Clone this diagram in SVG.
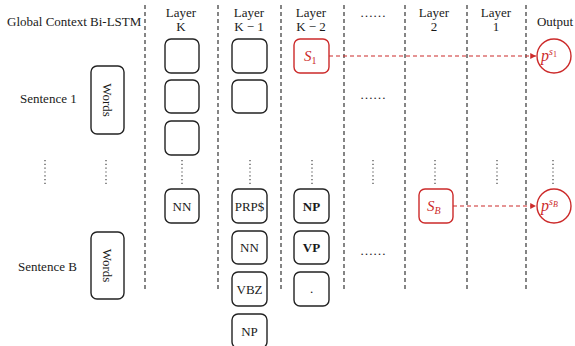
<svg xmlns="http://www.w3.org/2000/svg" width="575" height="346" viewBox="0 0 575 346">
<defs>
<style>
.t{font-family:"Liberation Serif","Times New Roman",serif;font-size:13px;fill:#1a1a1a;}
.c{text-anchor:middle;}
.box{fill:#fff;stroke:#222;stroke-width:1.4;}
.rbox{fill:#fff;stroke:#cc2a2a;stroke-width:1.4;}
.sep{stroke:#222;stroke-width:1.1;stroke-dasharray:4,3;fill:none;}
.vd{stroke:#444;stroke-width:1.2;stroke-dasharray:1.2,2.6;fill:none;}
.red{stroke:#cc2a2a;stroke-width:1.1;stroke-dasharray:4,3;fill:none;}
.rt{font-family:"Liberation Serif","Times New Roman",serif;font-style:italic;fill:#cc2a2a;}
</style>
<marker id="ah" viewBox="0 0 8 8" refX="7" refY="4" markerWidth="6" markerHeight="6" orient="auto">
<path d="M0,0.5 L7,4 L0,7.5 Z" fill="#cc2a2a"/>
</marker>
</defs>
<rect width="575" height="346" fill="#fff"/>

<g id="separators">
<line class="sep" x1="145" y1="5" x2="145" y2="291"/>
<line class="sep" x1="218" y1="5" x2="218" y2="291"/>
<line class="sep" x1="281" y1="5" x2="281" y2="291"/>
<line class="sep" x1="344" y1="5" x2="344" y2="291"/>
<line class="sep" x1="405" y1="5" x2="405" y2="291"/>
<line class="sep" x1="467" y1="5" x2="467" y2="291"/>
<line class="sep" x1="526" y1="5" x2="526" y2="291"/>
</g>

<g id="headers">
<text class="t" x="7" y="26">Global Context Bi-LSTM</text>
<text class="t c" x="181" y="17">Layer</text>
<text class="t c" x="181" y="31">K</text>
<text class="t c" x="249" y="17">Layer</text>
<text class="t c" x="249" y="31">K − 1</text>
<text class="t c" x="311" y="17">Layer</text>
<text class="t c" x="311" y="31">K − 2</text>
<text class="t c" x="373" y="17">……</text>
<text class="t c" x="434" y="17">Layer</text>
<text class="t c" x="434" y="31">2</text>
<text class="t c" x="496" y="17">Layer</text>
<text class="t c" x="496" y="31">1</text>
<text class="t c" x="555" y="26">Output</text>
</g>

<g id="sentence1">
<text class="t" x="20" y="103">Sentence 1</text>
<rect class="box" x="91" y="66" width="33" height="68" rx="6"/>
<text class="t c" transform="translate(107.5,100) rotate(90)" y="4.5">Words</text>
</g>
<g id="sentenceB">
<text class="t" x="18" y="271">Sentence B</text>
<rect class="box" x="91" y="232" width="33" height="67" rx="6"/>
<text class="t c" transform="translate(107.5,265.5) rotate(90)" y="4.5">Words</text>
</g>

<g id="layerK">
<rect class="box" x="165" y="39" width="34" height="34" rx="6"/>
<rect class="box" x="165" y="80" width="34" height="33" rx="6"/>
<rect class="box" x="165" y="121" width="34" height="34" rx="6"/>
<rect class="box" x="165" y="189" width="34" height="34" rx="6"/>
<text class="t c" x="182" y="211">NN</text>
</g>

<g id="layerK1">
<rect class="box" x="232" y="39" width="35" height="34" rx="6"/>
<rect class="box" x="232" y="80" width="35" height="33" rx="6"/>
<rect class="box" x="232" y="189" width="35" height="34" rx="6"/>
<text class="t c" x="249.5" y="211">PRP$</text>
<rect class="box" x="232" y="231" width="35" height="33" rx="6"/>
<text class="t c" x="249.5" y="252">NN</text>
<rect class="box" x="232" y="272" width="35" height="34" rx="6"/>
<text class="t c" x="249.5" y="294">VBZ</text>
<rect class="box" x="232" y="314" width="35" height="34" rx="6"/>
<text class="t c" x="249.5" y="336">NP</text>
</g>

<g id="layerK2">
<rect class="rbox" x="294" y="39" width="35" height="34" rx="6"/>
<text class="rt" x="304" y="61" font-size="15">S<tspan font-size="10" font-style="normal" dy="3">1</tspan></text>
<rect class="box" x="294" y="189" width="35" height="34" rx="6"/>
<text class="t c" x="311.5" y="211" font-weight="bold">NP</text>
<rect class="box" x="294" y="231" width="35" height="33" rx="6"/>
<text class="t c" x="311.5" y="252" font-weight="bold">VP</text>
<rect class="box" x="294" y="272" width="35" height="34" rx="6"/>
<text class="t c" x="311.5" y="293">.</text>
</g>

<g id="middle">
<text class="t c" x="373" y="99">……</text>
<text class="t c" x="373" y="255">……</text>
</g>

<g id="layer2">
<rect class="rbox" x="419" y="189" width="34" height="34" rx="6"/>
<text class="rt" x="427" y="211" font-size="15">S<tspan font-size="10" dy="3">B</tspan></text>
</g>

<g id="output">
<circle class="rbox" cx="554" cy="56" r="17"/>
<text class="rt" x="541" y="61" font-size="16">p<tspan font-size="10" dy="-6">s</tspan><tspan font-size="8" font-style="normal" dy="2">1</tspan></text>
<circle class="rbox" cx="554" cy="206" r="17"/>
<text class="rt" x="541" y="211" font-size="16">p<tspan font-size="10" dy="-6">s</tspan><tspan font-size="8" dy="2">B</tspan></text>
</g>

<g id="vdots">
<line class="vd" x1="45" y1="160" x2="45" y2="184"/>
<line class="vd" x1="106" y1="160" x2="106" y2="184"/>
<line class="vd" x1="182" y1="160" x2="182" y2="184"/>
<line class="vd" x1="250" y1="160" x2="250" y2="184"/>
<line class="vd" x1="312" y1="160" x2="312" y2="184"/>
<line class="vd" x1="373" y1="160" x2="373" y2="184"/>
<line class="vd" x1="435" y1="160" x2="435" y2="184"/>
<line class="vd" x1="497" y1="160" x2="497" y2="184"/>
<line class="vd" x1="553" y1="160" x2="553" y2="184"/>
</g>

<g id="connectors">
<line class="red" x1="329" y1="56" x2="536" y2="56" marker-end="url(#ah)"/>
<line class="red" x1="453" y1="206" x2="536" y2="206" marker-end="url(#ah)"/>
</g>
</svg>
